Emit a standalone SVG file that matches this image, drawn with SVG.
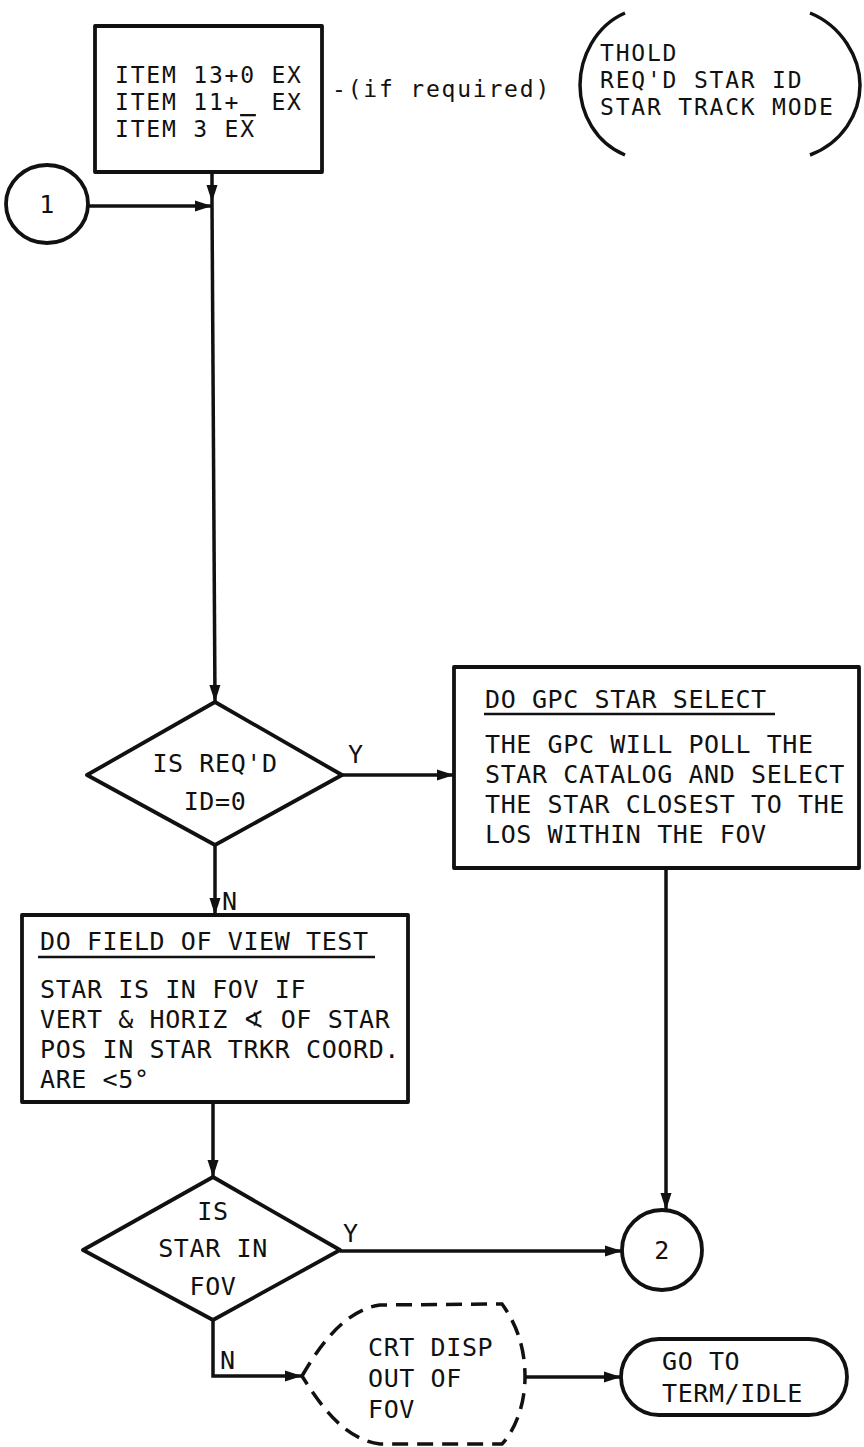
<svg xmlns="http://www.w3.org/2000/svg" width="864" height="1447" viewBox="0 0 864 1447">
<style>
text{font-family:"DejaVu Sans Mono","Liberation Mono",monospace;font-size:25px;letter-spacing:0.6px;fill:#111}
.t{font-size:23px;letter-spacing:1.8px}
.c{text-anchor:middle}
.s{fill:none;stroke:#111;stroke-width:3.8;stroke-linejoin:round}
.l{fill:none;stroke:#111;stroke-width:3.5}
.u{stroke:#111;stroke-width:2.5}
.d{fill:none;stroke:#111;stroke-width:3.5;stroke-dasharray:16 9}
</style>
<defs>
<marker id="a" markerUnits="userSpaceOnUse" markerWidth="18" markerHeight="12" refX="17" refY="6" orient="auto">
<path d="M0,0.5 L17,6 L0,11.5 z" fill="#111"/>
</marker>
</defs>
<rect width="864" height="1447" fill="#fff"/>

<g id="item-box">
<rect class="s" x="95" y="26" width="227" height="146"/>
<text class="t" x="115" y="83">ITEM 13+0 EX</text>
<text class="t" x="115" y="110">ITEM 11+_ EX</text>
<text class="t" x="115" y="137">ITEM 3 E<tspan text-decoration="overline">X</tspan></text>
</g>

<g id="note">
<text class="t" x="332" y="97">-(if required)</text>
<path class="l" d="M625,13 C595,26 580,58 580,85 C580,114 596,143 625,155"/>
<path class="l" d="M810,13 C842,26 860,58 860,85 C860,114 842,143 810,155"/>
<text class="t" x="600" y="61">THOLD</text>
<text class="t" x="600" y="88">REQ'D STAR ID</text>
<text class="t" x="600" y="115">STAR TRACK MODE</text>
</g>

<g id="conn1">
<ellipse class="s" cx="47" cy="204" rx="41" ry="39"/>
<text class="c" x="47" y="213">1</text>
</g>

<g id="dec1">
<polygon class="s" points="215,702 342,775 215,845 87,775"/>
<text class="c" x="215" y="772">IS REQ'D</text>
<text class="c" x="215" y="810">ID=0</text>
</g>

<g id="gpc-box">
<rect class="s" x="454" y="667" width="405" height="201"/>
<text x="485" y="708">DO GPC STAR SELECT</text>
<line class="u" x1="484" y1="714" x2="775" y2="714"/>
<text x="485" y="753">THE GPC WILL POLL THE</text>
<text x="485" y="783">STAR CATALOG AND SELECT</text>
<text x="485" y="813">THE STAR CLOSEST TO THE</text>
<text x="485" y="843">LOS WITHIN THE FOV</text>
</g>

<g id="fov-box">
<rect class="s" x="22" y="915" width="386" height="187"/>
<text x="40" y="950">DO FIELD OF VIEW TEST</text>
<line class="u" x1="38" y1="957" x2="375" y2="957"/>
<text x="40" y="998">STAR IS IN FOV IF</text>
<text x="40" y="1028">VERT &amp; HORIZ ∢ OF STAR</text>
<text x="40" y="1058">POS IN STAR TRKR COORD.</text>
<text x="40" y="1088">ARE &lt;5°</text>
</g>

<g id="dec2">
<polygon class="s" points="213,1177 340,1250 213,1320 83,1250"/>
<text class="c" x="213" y="1220">IS</text>
<text class="c" x="213" y="1257">STAR IN</text>
<text class="c" x="213" y="1295">FOV</text>
</g>

<g id="conn2">
<circle class="s" cx="662" cy="1250" r="40"/>
<text class="c" x="662" y="1259">2</text>
</g>

<g id="display">
<path class="d" d="M302,1376 C320,1345 345,1310 380,1305 L502,1304 C515,1322 525,1345 525,1377 C525,1405 515,1430 502,1444 L380,1444 C345,1440 320,1405 302,1376 Z"/>
<text x="368" y="1356">CRT DISP</text>
<text x="368" y="1387">OUT OF</text>
<text x="368" y="1418">FOV</text>
</g>

<g id="term">
<rect class="s" x="621" y="1339" width="226" height="76" rx="38" ry="38"/>
<text x="662" y="1370">GO TO</text>
<text x="662" y="1402">TERM/IDLE</text>
</g>

<g id="connectors">
<line class="l" x1="212" y1="172" x2="212" y2="202" marker-end="url(#a)"/>
<line class="l" x1="88" y1="206" x2="212" y2="206" marker-end="url(#a)"/>
<line class="l" x1="212" y1="202" x2="215" y2="702" marker-end="url(#a)"/>
<line class="l" x1="342" y1="775" x2="454" y2="775" marker-end="url(#a)"/>
<line class="l" x1="215" y1="845" x2="215" y2="915" marker-end="url(#a)"/>
<line class="l" x1="213" y1="1102" x2="213" y2="1177" marker-end="url(#a)"/>
<line class="l" x1="666" y1="868" x2="666" y2="1210" marker-end="url(#a)"/>
<line class="l" x1="340" y1="1251" x2="622" y2="1251" marker-end="url(#a)"/>
<polyline class="l" points="213,1320 213,1376 302,1376" marker-end="url(#a)"/>
<line class="l" x1="525" y1="1377" x2="621" y2="1377" marker-end="url(#a)"/>
<text x="348" y="763">Y</text>
<text x="222" y="910">N</text>
<text x="343" y="1242">Y</text>
<text x="220" y="1369">N</text>
</g>
</svg>
